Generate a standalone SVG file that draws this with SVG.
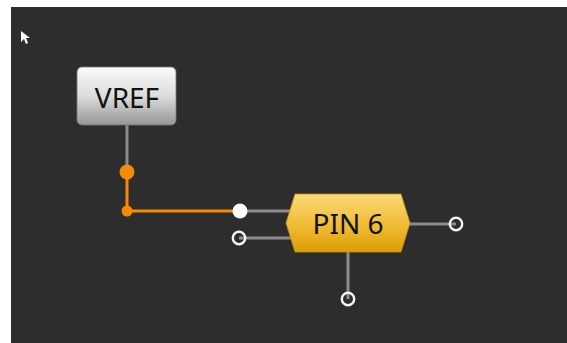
<svg xmlns="http://www.w3.org/2000/svg" width="567" height="343" viewBox="0 0 567 343">
<style>
.wire{stroke:#8c8c8c;stroke-width:3;fill:none}
.owire{stroke:#f58a07;stroke-width:3;fill:none}
.port{fill:none;stroke:#f4f4f4;stroke-width:2.4}
.lbl{font-family:"Noto Sans","Open Sans",sans-serif;font-size:28px;fill:#111;text-anchor:middle}
</style>
<defs>
<linearGradient id="gGray" x1="0" y1="0" x2="0" y2="1">
<stop offset="0" stop-color="#fbfbfb"/>
<stop offset="0.5" stop-color="#dcdcdc"/>
<stop offset="1" stop-color="#969696"/>
</linearGradient>
<linearGradient id="gGold" x1="0" y1="0" x2="0" y2="1">
<stop offset="0" stop-color="#fcd978"/>
<stop offset="0.5" stop-color="#f1be3a"/>
<stop offset="1" stop-color="#dc9d05"/>
</linearGradient>
</defs>
<rect x="0" y="0" width="567" height="343" fill="#ffffff"/>
<rect x="11" y="7" width="556" height="336" fill="#2d2d2d"/>
<polygon points="21,31 21,42 24,39 26,44 28,43 26,38 30,38" fill="#ffffff"/>
<g id="connectors">
<line class="wire" x1="127" y1="124" x2="127" y2="172"/>
<polyline class="owire" points="127,172 127,211 240,211"/>
<line class="wire" x1="240" y1="211" x2="292" y2="211"/>
<line class="wire" x1="239" y1="238" x2="292" y2="238"/>
<line class="wire" x1="409" y1="224" x2="456" y2="224"/>
<line class="wire" x1="348" y1="252" x2="348" y2="299"/>
<circle cx="127" cy="172" r="7.5" fill="#f58a07"/>
<circle cx="127" cy="211" r="5.5" fill="#f58a07"/>
<circle cx="240" cy="211" r="7.5" fill="#ffffff"/>
<circle class="port" cx="239" cy="238" r="6.2" fill="#2d2d2d"/>
<circle class="port" cx="456" cy="224" r="6.2" fill="#2d2d2d"/>
<circle class="port" cx="348" cy="299" r="6.2" fill="#2d2d2d"/>
</g>
<g id="vref">
<rect x="77" y="67" width="99" height="58" rx="5" fill="url(#gGray)" stroke="#777" stroke-width="0.8"/>
<text class="lbl" x="127" y="108">VREF</text>
</g>
<g id="pin6">
<polygon points="295,194 401,194 410,223 401,252 295,252 286,223" fill="url(#gGold)" stroke="#c99010" stroke-width="0.8"/>
<text class="lbl" x="348" y="234">PIN 6</text>
</g>
</svg>
